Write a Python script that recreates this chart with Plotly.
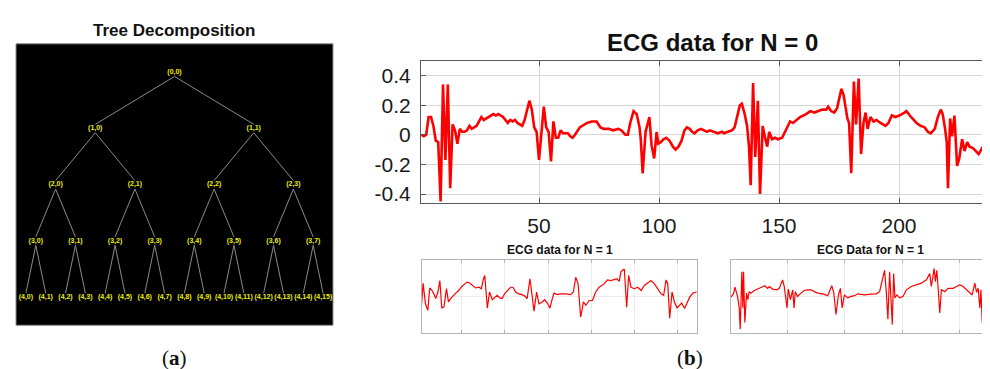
import plotly.graph_objects as go

W, H = 990, 369

# ---------------- data ----------------
main_x = [1, 2, 3, 4, 5, 6, 7, 8, 9, 10,
          11, 12, 13, 14, 15, 16, 17, 18, 19, 20,
          21, 22, 24, 26, 27, 28, 30, 31, 32, 33,
          35, 36, 37, 38, 39, 40, 41, 43, 44, 46,
          47, 48, 49, 50, 51, 52, 53, 54, 55, 56,
          57, 58, 59, 60, 62, 63, 64, 65, 67, 68,
          70, 72, 74, 75.6, 77, 79, 81, 83, 84.3, 86,
          87, 88, 89.4, 90.7, 91.9, 92.4, 93.2, 94.4, 95.2, 96,
          96.9, 98, 99, 99.7, 100.7, 101.9, 103, 104.4, 105.8, 106.9,
          108.1, 109.4, 110.6, 111.6, 112.8, 113.8, 114.8, 116.1, 117.5, 118.8,
          120, 121.1, 122.8, 124.5, 126.2, 127, 128.7, 130.4, 131.5, 132.5,
          133.7, 134.5, 135.7, 136.7, 137.5, 138.2, 139.2, 140.1, 141.2, 142.1,
          143.2, 144.2, 145.1, 145.9, 147.1, 148.3, 149.6, 151.3, 152.9, 154.6,
          155.8, 157.1, 158.8, 161.3, 163, 164.7, 166.3, 168, 169.7, 170.5,
          171.7, 173, 174.2, 175, 176, 176.9, 177.7, 178.5, 179.2, 180.1,
          181.2, 182.1, 183.2, 184.2, 185.2, 186.1, 186.9, 188.1, 189.4, 190.6,
          192.3, 193.1, 194.4, 195.6, 197, 198.5, 200.1, 202.3, 203.1, 204.5,
          206.2, 207.3, 209, 210.7, 212, 213.2, 214.9, 216.2, 217.4, 218.2,
          219.2, 219.9, 220.4, 221.3, 222.1, 223.1, 224.2, 225.1, 226.3, 227.3,
          228.4, 229.4, 230.8, 233.2, 234.6, 236, 237.4, 239.5, 241.5]
main_y = [0.00, -0.01, 0.00, 0.12, 0.12, 0.06, -0.04, -0.05, -0.45, 0.34,
          -0.17, 0.34, -0.36, 0.07, 0.03, -0.06, 0.04, 0.02, 0.02, 0.03,
          0.06, 0.04, 0.06, 0.12, 0.10, 0.11, 0.13, 0.14, 0.13, 0.14,
          0.12, 0.10, 0.08, 0.10, 0.09, 0.10, 0.08, 0.06, 0.10, 0.23,
          0.17, 0.05, 0.02, -0.17, 0.03, 0.19, 0.05, 0.02, -0.18, 0.09,
          -0.02, -0.02, 0.03, 0.01, 0.01, -0.01, -0.02, 0.00, 0.05, 0.06,
          0.08, 0.09, 0.09, 0.05, 0.04, 0.04, 0.03, 0.04, 0.03, 0.00,
          0.00, 0.08, 0.16, 0.14, 0.05, -0.03, -0.26, 0.02, 0.08, 0.12,
          -0.07, -0.16, 0.02, -0.06, -0.05, -0.03, -0.02, -0.04, -0.08, -0.10,
          -0.08, -0.04, 0.03, 0.05, 0.04, 0.02, 0.01, 0.03, 0.04, 0.03,
          0.02, 0.03, 0.02, 0.01, 0.02, 0.01, 0.02, 0.03, 0.05, 0.12,
          0.20, 0.21, 0.14, 0.06, -0.08, -0.34, 0.35, -0.15, 0.23, -0.40,
          0.06, -0.02, -0.08, 0.02, -0.03, -0.02, -0.03, -0.02, 0.03, 0.09,
          0.08, 0.10, 0.12, 0.14, 0.16, 0.15, 0.16, 0.17, 0.17, 0.19,
          0.16, 0.15, 0.18, 0.24, 0.31, 0.27, 0.19, 0.11, 0.08, -0.26,
          0.36, 0.07, 0.38, -0.13, 0.08, 0.15, 0.04, 0.12, 0.09, 0.10,
          0.08, 0.07, 0.06, 0.08, 0.13, 0.12, 0.13, 0.15, 0.16, 0.13,
          0.10, 0.08, 0.06, 0.05, 0.02, 0.01, 0.04, 0.12, 0.17, 0.14,
          0.04, -0.05, -0.36, 0.11, -0.01, 0.13, -0.21, -0.16, -0.03, -0.11,
          -0.05, -0.08, -0.09, -0.13, -0.09, -0.05, -0.02, 0.015, 0.04]

n1_x = [1.0, 1.9, 3.0, 4.1, 5.0, 6.1, 6.9, 7.8, 8.8, 9.7,
        10.6, 11.6, 12.8, 13.7, 14.7, 15.9, 17.1, 18.5, 19.6, 20.9,
        22.4, 23.7, 24.9, 26.3, 27.9, 29.0, 29.9, 30.6, 31.8, 32.8,
        34.1, 35.1, 36.4, 37.6, 38.7, 39.8, 41.0, 42.6, 43.8, 44.9,
        46.5, 48.0, 48.8, 50.3, 51.6, 52.2, 53.5, 54.7, 55.8, 57.3,
        58.4, 59.7, 60.9, 62.0, 62.8, 64.3, 65.9, 68.2, 70.5, 71.8,
        72.9, 74.0, 75.2, 76.5, 77.6, 79.1, 80.7, 82.2, 83.8, 86.1,
        87.7, 89.2, 90.8, 92.0, 93.1, 93.9, 94.9, 95.5, 96.6, 97.5,
        98.6, 100.2, 101.7, 103.3, 104.8, 106.4, 107.9, 109.5, 111.0, 112.6,
        113.8, 114.9, 115.7, 116.6, 117.7, 118.8, 120.0, 121.1, 122.2, 123.5,
        124.7, 125.9, 127.4, 129.1]
n1_y = [-0.38, 0.36, -0.20, -0.38, 0.23, 0.16, 0.07, -0.06, 0.12, 0.43,
        -0.31, -0.29, 0.21, -0.15, -0.06, 0.03, 0.09, 0.16, 0.25, 0.32,
        0.39, 0.36, 0.30, 0.23, 0.25, 0.21, 0.46, 0.57, -0.32, 0.12,
        -0.09, -0.04, 0.03, -0.04, -0.06, 0.07, 0.16, 0.25, 0.25, 0.12,
        0.07, 0.05, 0.03, -0.06, 0.48, 0.21, -0.40, 0.12, -0.20, -0.15,
        -0.09, -0.18, -0.32, -0.06, 0.09, 0.05, 0.07, 0.07, 0.05, 0.12,
        0.52, 0.34, -0.56, -0.15, -0.24, -0.11, -0.11, 0.12, 0.25, 0.34,
        0.45, 0.43, 0.45, 0.48, 0.41, 0.66, 0.73, 0.73, -0.29, 0.57,
        0.25, 0.21, 0.25, 0.16, 0.30, 0.36, 0.43, 0.34, 0.21, 0.07,
        0.03, 0.45, 0.34, -0.59, 0.12, -0.15, -0.31, -0.24, -0.18, -0.33,
        -0.15, -0.02, 0.09, 0.12]

n2_x = [1.3, 3.6, 4.8, 7.1, 8.5, 9.4, 10.8, 11.7, 12.3, 13.4,
        14.9, 16.0, 17.2, 18.7, 21.6, 24.5, 27.4, 30.8, 33.1, 34.6,
        37.5, 41.3, 43.3, 46.2, 47.6, 50.0, 51.1, 52.9, 54.9, 56.1,
        57.2, 59.2, 62.1, 65.0, 67.9, 70.8, 73.7, 76.6, 81.0, 85.3,
        88.8, 90.5, 92.5, 94.6, 96.3, 97.8, 99.8, 102.7, 105.6, 108.5,
        111.4, 117.2, 123.0, 127.4, 130.3, 132.3, 134.6, 136.1, 137.5, 139.0,
        141.3, 142.5, 143.6, 145.4, 147.7, 150.6, 153.5, 157.8, 162.2, 166.5,
        170.9, 173.8, 175.2, 177.6, 178.7, 179.9, 181.0, 182.5, 183.9, 186.8,
        189.7, 194.1, 197.0, 199.9, 202.8, 205.7, 208.6, 210.6, 212.9, 214.4,
        215.8, 217.3, 218.2, 219.3, 220.5, 222.2, 224.0, 226.0, 228.0, 230.3,
        232.6, 235.0]
n2_y = [-0.02, 0.07, 0.25, 0.00, -0.31, -0.89, 0.67, -0.31, 0.67, -0.71,
        0.09, -0.09, 0.13, 0.09, 0.16, 0.20, 0.25, 0.29, 0.22, 0.27,
        0.20, 0.18, 0.22, 0.45, 0.27, -0.31, 0.20, -0.09, 0.18, -0.31,
        0.13, 0.00, 0.09, 0.16, 0.18, 0.18, 0.13, 0.09, 0.07, 0.02,
        0.29, 0.11, -0.49, 0.04, 0.22, -0.31, 0.04, -0.04, 0.00, 0.02,
        0.07, 0.04, 0.06, 0.07, 0.13, 0.40, 0.71, 0.13, -0.62, 0.67,
        -0.76, 0.62, -0.04, 0.04, -0.04, 0.00, 0.18, 0.27, 0.31, 0.36,
        0.45, 0.62, 0.27, 0.76, 0.40, 0.71, 0.27, -0.45, 0.18, 0.13,
        0.22, 0.22, 0.27, 0.31, 0.27, 0.18, 0.09, 0.04, 0.36, 0.11,
        0.22, -0.31, 0.18, -0.71, -0.18, -0.04, -0.18, -0.13, -0.22, -0.18,
        -0.25, -0.20]

main_xticks = [50, 100, 150, 200]
main_yticks = [-0.4, -0.2, 0, 0.2, 0.4]
main_yticktext = ["-0.4", "-0.2", "0", "0.2", "0.4"]
n1_xticks = [20, 40, 60, 80, 100, 120]
n2_xticks = [50, 100, 150, 200]

tree_max_depth = 4
tree_depths = [0, 1, 2, 3, 4]

# ---------------- helpers ----------------
def fx(p):
    return p / W

def fy(p):
    return 1 - p / H

RED = "#ff0000"
FONT = "Liberation Sans, Arial, sans-serif"
SERIF = "Liberation Serif, DejaVu Serif, serif"

fig = go.Figure()

# main ECG
fig.add_trace(go.Scatter(x=main_x, y=main_y, xaxis="x", yaxis="y", mode="lines",
                         line=dict(color=RED, width=2.6), hoverinfo="skip"))
# small ECG 1
fig.add_trace(go.Scatter(x=n1_x, y=n1_y, xaxis="x2", yaxis="y2", mode="lines",
                         line=dict(color=RED, width=1.2), hoverinfo="skip"))
# small ECG 2
fig.add_trace(go.Scatter(x=n2_x, y=n2_y, xaxis="x3", yaxis="y3", mode="lines",
                         line=dict(color=RED, width=1.2), hoverinfo="skip"))

# tree decomposition
node_x, node_y, node_t = [], [], []
edge_x, edge_y = [], []
for d in tree_depths:
    for i in range(2 ** d):
        x = (i + 0.5) / 2 ** d
        node_x.append(x)
        node_y.append(d)
        node_t.append(f"<b>({d},{i})</b>")
        if d > 0:
            p = i // 2
            px_ = (p + 0.5) / 2 ** (d - 1)
            edge_x += [px_, x, None]
            edge_y += [d - 1 + 0.08, d - 0.07, None]

fig.add_trace(go.Scatter(x=edge_x, y=edge_y, xaxis="x4", yaxis="y4", mode="lines",
                         line=dict(color="#8a8a8a", width=1), hoverinfo="skip"))
fig.add_trace(go.Scatter(x=node_x, y=node_y, xaxis="x4", yaxis="y4", mode="text",
                         text=node_t, textposition="middle center",
                         textfont=dict(color="#eeee00", size=7, family=FONT),
                         hoverinfo="skip"))

main_axis_col = "#5a5a5a"
grid_main = "#d6d6d6"
small_frame = "#b4b4b4"
grid_small = "#ebebeb"

fig.update_layout(
    width=W, height=H,
    margin=dict(l=0, r=0, t=0, b=0),
    paper_bgcolor="white", plot_bgcolor="white",
    showlegend=False,
    font=dict(family=FONT, color="#1a1a1a"),
    xaxis=dict(domain=[fx(413), 1.0], anchor="y", range=[0.83, 241.25],
               tickvals=main_xticks, ticks="inside", ticklen=5, tickcolor=main_axis_col,
               showline=True, linecolor=main_axis_col, linewidth=1, mirror="ticks",
               showgrid=True, gridcolor=grid_main, gridwidth=1, zeroline=False,
               tickfont=dict(size=21, color="#1a1a1a"), ticklabelstandoff=4),
    yaxis=dict(domain=[fy(196), fy(53)], anchor="x", range=[-0.46, 0.5],
               tickvals=main_yticks, ticktext=main_yticktext,
               ticks="inside", ticklen=5, tickcolor=main_axis_col,
               showline=True, linecolor=main_axis_col, linewidth=1, mirror=False,
               showgrid=True, gridcolor=grid_main, gridwidth=1, zeroline=False,
               tickfont=dict(size=21, color="#1a1a1a"), ticklabelstandoff=5),
    xaxis2=dict(domain=[fx(414), fx(689)], anchor="y2", range=[1.4, 129.3],
                tickvals=n1_xticks, showticklabels=False, ticks="inside", ticklen=3,
                tickcolor=small_frame, showline=True, linecolor=small_frame, mirror="ticks",
                showgrid=True, gridcolor=grid_small, zeroline=False),
    yaxis2=dict(domain=[fy(327), fy(253)], anchor="x2", range=[-1, 1],
                tickvals=[0], showticklabels=False, ticks="",
                showline=True, linecolor=small_frame, mirror=True,
                showgrid=True, gridcolor=grid_small, zeroline=False),
    xaxis3=dict(domain=[fx(723), 1.0], anchor="y3", range=[1.4, 233],
                tickvals=n2_xticks, showticklabels=False, ticks="inside", ticklen=3,
                tickcolor=small_frame, showline=True, linecolor=small_frame, mirror="ticks",
                showgrid=True, gridcolor=grid_small, zeroline=False),
    yaxis3=dict(domain=[fy(327), fy(253)], anchor="x3", range=[-1, 1],
                tickvals=[0], showticklabels=False, ticks="",
                showline=True, linecolor=small_frame, mirror=False,
                showgrid=True, gridcolor=grid_small, zeroline=False),
    xaxis4=dict(domain=[fx(8), fx(325)], anchor="y4", range=[0, 1], visible=False),
    yaxis4=dict(domain=[fy(319), fy(36)], anchor="x4", range=[tree_max_depth + 0.5, -0.5],
                visible=False),
    shapes=[dict(type="rect", xref="x4 domain", yref="y4 domain", x0=0, x1=1, y0=0, y1=1,
                 fillcolor="black", line=dict(color="#8c8c8c", width=1), layer="below")],
    annotations=[
        dict(text="<b>Tree Decomposition</b>", x=fx(166), y=fy(23), xref="paper", yref="paper",
             showarrow=False, xanchor="center", yanchor="middle",
             font=dict(size=17, color="#111111", family=FONT)),
        dict(text="<b>ECG data for N = 0</b>", x=fx(704), y=fy(35), xref="paper", yref="paper",
             showarrow=False, xanchor="center", yanchor="middle",
             font=dict(size=24, color="#111111", family=FONT)),
        dict(text="<b>ECG data for N = 1</b>", x=fx(552), y=fy(243), xref="paper", yref="paper",
             showarrow=False, xanchor="center", yanchor="middle",
             font=dict(size=12, color="#111111", family=FONT)),
        dict(text="<b>ECG Data for N = 1</b>", x=fx(862), y=fy(243), xref="paper", yref="paper",
             showarrow=False, xanchor="center", yanchor="middle",
             font=dict(size=12, color="#111111", family=FONT)),
        dict(text="(<b>a</b>)", x=fx(166), y=fy(352), xref="paper", yref="paper",
             showarrow=False, xanchor="center", yanchor="middle",
             font=dict(size=21, color="#111111", family=SERIF)),
        dict(text="(<b>b</b>)", x=fx(682), y=fy(352), xref="paper", yref="paper",
             showarrow=False, xanchor="center", yanchor="middle",
             font=dict(size=21, color="#111111", family=SERIF)),
    ],
)

fig.write_html("out.html")
